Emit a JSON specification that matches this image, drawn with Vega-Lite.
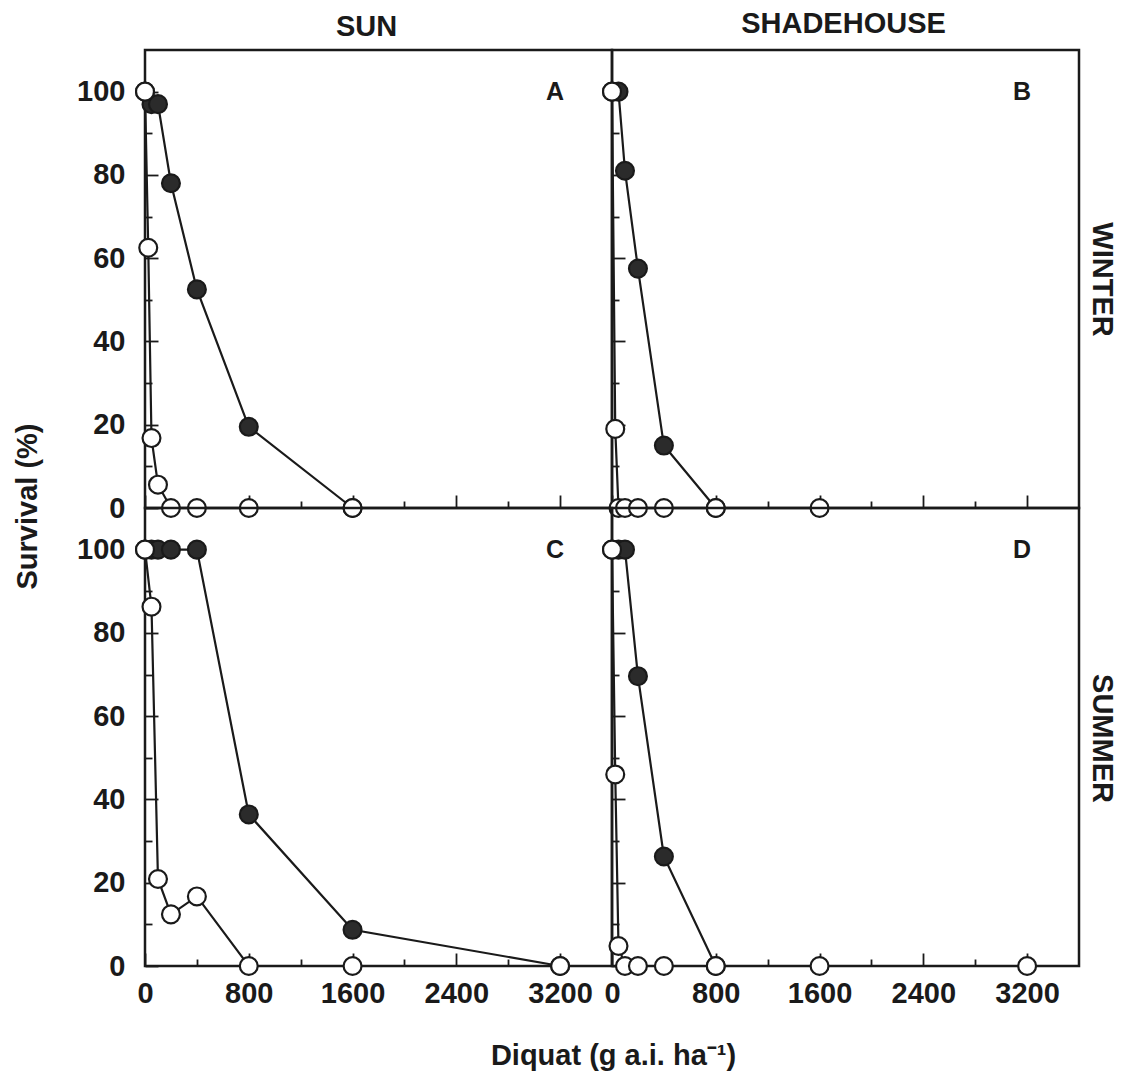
{
  "$schema": "https://vega.github.io/schema/vega-lite/v6.json",
  "padding": {"left": 11, "top": 7, "right": 5, "bottom": 5},
  "background": "white",
  "config": {
    "view": {"stroke": "#1a1a1a", "strokeWidth": 2.5},
    "axis": {"labelFont": "Liberation Sans", "labelFontSize": 29, "labelFontWeight": "bold", "labelColor": "#1a1a1a", "tickColor": "#1a1a1a", "tickWidth": 1.8, "domain": false, "grid": false,
             "titleFont": "Liberation Sans", "titleFontSize": 29, "titleFontWeight": "bold", "titleColor": "#1a1a1a", "titleBaseline": "alphabetic", "titleAlign": "center", "format": "d"}
  },
  "data": {"values": [
    {"season": "WINTER", "site": "SUN", "type": "filled", "dose": 0, "surv": 100},
    {"season": "WINTER", "site": "SUN", "type": "filled", "dose": 50, "surv": 97},
    {"season": "WINTER", "site": "SUN", "type": "filled", "dose": 100, "surv": 97},
    {"season": "WINTER", "site": "SUN", "type": "filled", "dose": 200, "surv": 78},
    {"season": "WINTER", "site": "SUN", "type": "filled", "dose": 400, "surv": 52.5},
    {"season": "WINTER", "site": "SUN", "type": "filled", "dose": 800, "surv": 19.5},
    {"season": "WINTER", "site": "SUN", "type": "filled", "dose": 1600, "surv": 0},
    {"season": "WINTER", "site": "SHADEHOUSE", "type": "filled", "dose": 0, "surv": 100},
    {"season": "WINTER", "site": "SHADEHOUSE", "type": "filled", "dose": 50, "surv": 100},
    {"season": "WINTER", "site": "SHADEHOUSE", "type": "filled", "dose": 100, "surv": 81},
    {"season": "WINTER", "site": "SHADEHOUSE", "type": "filled", "dose": 200, "surv": 57.5},
    {"season": "WINTER", "site": "SHADEHOUSE", "type": "filled", "dose": 400, "surv": 15},
    {"season": "WINTER", "site": "SHADEHOUSE", "type": "filled", "dose": 800, "surv": 0},
    {"season": "SUMMER", "site": "SUN", "type": "filled", "dose": 0, "surv": 100},
    {"season": "SUMMER", "site": "SUN", "type": "filled", "dose": 50, "surv": 100},
    {"season": "SUMMER", "site": "SUN", "type": "filled", "dose": 100, "surv": 100},
    {"season": "SUMMER", "site": "SUN", "type": "filled", "dose": 200, "surv": 100},
    {"season": "SUMMER", "site": "SUN", "type": "filled", "dose": 400, "surv": 100},
    {"season": "SUMMER", "site": "SUN", "type": "filled", "dose": 800, "surv": 36.4},
    {"season": "SUMMER", "site": "SUN", "type": "filled", "dose": 1600, "surv": 8.7},
    {"season": "SUMMER", "site": "SUN", "type": "filled", "dose": 3200, "surv": 0},
    {"season": "SUMMER", "site": "SHADEHOUSE", "type": "filled", "dose": 0, "surv": 100},
    {"season": "SUMMER", "site": "SHADEHOUSE", "type": "filled", "dose": 50, "surv": 100},
    {"season": "SUMMER", "site": "SHADEHOUSE", "type": "filled", "dose": 100, "surv": 100},
    {"season": "SUMMER", "site": "SHADEHOUSE", "type": "filled", "dose": 200, "surv": 69.6},
    {"season": "SUMMER", "site": "SHADEHOUSE", "type": "filled", "dose": 400, "surv": 26.3},
    {"season": "SUMMER", "site": "SHADEHOUSE", "type": "filled", "dose": 800, "surv": 0},
    {"season": "WINTER", "site": "SUN", "type": "open", "dose": 0, "surv": 100},
    {"season": "WINTER", "site": "SUN", "type": "open", "dose": 25, "surv": 62.5},
    {"season": "WINTER", "site": "SUN", "type": "open", "dose": 50, "surv": 16.8},
    {"season": "WINTER", "site": "SUN", "type": "open", "dose": 100, "surv": 5.6},
    {"season": "WINTER", "site": "SUN", "type": "open", "dose": 200, "surv": 0},
    {"season": "WINTER", "site": "SUN", "type": "open", "dose": 400, "surv": 0},
    {"season": "WINTER", "site": "SUN", "type": "open", "dose": 800, "surv": 0},
    {"season": "WINTER", "site": "SUN", "type": "open", "dose": 1600, "surv": 0},
    {"season": "WINTER", "site": "SHADEHOUSE", "type": "open", "dose": 0, "surv": 100},
    {"season": "WINTER", "site": "SHADEHOUSE", "type": "open", "dose": 25, "surv": 19},
    {"season": "WINTER", "site": "SHADEHOUSE", "type": "open", "dose": 50, "surv": 0},
    {"season": "WINTER", "site": "SHADEHOUSE", "type": "open", "dose": 100, "surv": 0},
    {"season": "WINTER", "site": "SHADEHOUSE", "type": "open", "dose": 200, "surv": 0},
    {"season": "WINTER", "site": "SHADEHOUSE", "type": "open", "dose": 400, "surv": 0},
    {"season": "WINTER", "site": "SHADEHOUSE", "type": "open", "dose": 800, "surv": 0},
    {"season": "WINTER", "site": "SHADEHOUSE", "type": "open", "dose": 1600, "surv": 0},
    {"season": "SUMMER", "site": "SUN", "type": "open", "dose": 0, "surv": 100},
    {"season": "SUMMER", "site": "SUN", "type": "open", "dose": 50, "surv": 86.3},
    {"season": "SUMMER", "site": "SUN", "type": "open", "dose": 100, "surv": 20.9},
    {"season": "SUMMER", "site": "SUN", "type": "open", "dose": 200, "surv": 12.4},
    {"season": "SUMMER", "site": "SUN", "type": "open", "dose": 400, "surv": 16.7},
    {"season": "SUMMER", "site": "SUN", "type": "open", "dose": 800, "surv": 0},
    {"season": "SUMMER", "site": "SUN", "type": "open", "dose": 1600, "surv": 0},
    {"season": "SUMMER", "site": "SUN", "type": "open", "dose": 3200, "surv": 0},
    {"season": "SUMMER", "site": "SHADEHOUSE", "type": "open", "dose": 0, "surv": 100},
    {"season": "SUMMER", "site": "SHADEHOUSE", "type": "open", "dose": 25, "surv": 46},
    {"season": "SUMMER", "site": "SHADEHOUSE", "type": "open", "dose": 50, "surv": 4.8},
    {"season": "SUMMER", "site": "SHADEHOUSE", "type": "open", "dose": 100, "surv": 0},
    {"season": "SUMMER", "site": "SHADEHOUSE", "type": "open", "dose": 200, "surv": 0},
    {"season": "SUMMER", "site": "SHADEHOUSE", "type": "open", "dose": 400, "surv": 0},
    {"season": "SUMMER", "site": "SHADEHOUSE", "type": "open", "dose": 800, "surv": 0},
    {"season": "SUMMER", "site": "SHADEHOUSE", "type": "open", "dose": 1600, "surv": 0},
    {"season": "SUMMER", "site": "SHADEHOUSE", "type": "open", "dose": 3200, "surv": 0}
  ]},
  "datasets": {
    "letters": [
      {"season": "WINTER", "site": "SUN", "letter": "A"},
      {"season": "WINTER", "site": "SHADEHOUSE", "letter": "B"},
      {"season": "SUMMER", "site": "SUN", "letter": "C"},
      {"season": "SUMMER", "site": "SHADEHOUSE", "letter": "D"}
    ]
  },
  "columns": 2,
  "spacing": 0,
  "bounds": "flush",
  "concat": [
    {
      "width": 467, "height": 458,
      "resolve": {"axis": {"x": "independent", "y": "independent"}},
      "layer": [
        {"transform": [{"filter": "datum.season === 'WINTER' && datum.site === 'SUN'"}],
         "mark": {"type": "line", "color": "#1a1a1a", "strokeWidth": 2.2},
         "encoding": {
           "x": {"field": "dose", "type": "quantitative", "scale": {"domain": [0, 3600], "nice": false, "zero": false},
                 "axis": {"orient": "bottom", "title": null, "values": [0, 800, 1600, 2400, 3200], "tickSize": -13, "labels": false}},
           "y": {"field": "surv", "type": "quantitative", "scale": {"domain": [0, 110], "nice": false, "zero": false},
                 "axis": {"orient": "left", "title": "Survival (%)", "titleX": -109, "titleY": 456, "titleAngle": -90, "values": [0, 20, 40, 60, 80, 100], "tickSize": -13, "labelPadding": 33, "labelFlush": false}},
           "detail": {"field": "type"}}},
        {"transform": [{"filter": "datum.season === 'WINTER' && datum.site === 'SUN'"}],
         "mark": {"type": "point", "shape": "circle", "filled": true, "size": 320, "stroke": "#1a1a1a", "strokeWidth": 2.2, "opacity": 1},
         "encoding": {
           "x": {"field": "dose", "type": "quantitative", "axis": null},
           "y": {"field": "surv", "type": "quantitative", "axis": null},
           "fill": {"field": "type", "type": "nominal", "scale": {"domain": ["filled", "open"], "range": ["#2b2b2b", "#ffffff"]}, "legend": null}}},
        {"transform": [{"filter": "datum.season === 'WINTER' && datum.site === 'SUN'"}],
         "mark": {"type": "point", "opacity": 0},
         "encoding": {
           "x": {"field": "dose", "type": "quantitative", "axis": {"orient": "bottom", "title": null, "values": [400, 1200, 2000, 2800], "tickSize": -7, "labels": false}},
           "y": {"field": "surv", "type": "quantitative", "axis": {"orient": "left", "title": null, "values": [10, 30, 50, 70, 90], "tickSize": -7, "labels": false}}}},
        {"data": {"name": "letters"},
         "transform": [{"filter": "datum.season === 'WINTER' && datum.site === 'SUN'"}],
         "mark": {"type": "text", "font": "Liberation Sans", "fontSize": 25, "fontWeight": "bold", "color": "#1a1a1a", "align": "center", "baseline": "middle"},
         "encoding": {
           "x": {"datum": 3160, "type": "quantitative", "axis": {"orient": "top", "title": "SUN", "titleX": 221, "titleY": -15, "ticks": false, "labels": false}},
           "y": {"datum": 100, "type": "quantitative", "axis": null},
           "text": {"field": "letter"}}}
      ]
    },
    {
      "width": 467, "height": 458,
      "resolve": {"axis": {"x": "independent", "y": "independent"}},
      "layer": [
        {"transform": [{"filter": "datum.season === 'WINTER' && datum.site === 'SHADEHOUSE'"}],
         "mark": {"type": "line", "color": "#1a1a1a", "strokeWidth": 2.2},
         "encoding": {
           "x": {"field": "dose", "type": "quantitative", "scale": {"domain": [0, 3600], "nice": false, "zero": false},
                 "axis": {"orient": "bottom", "title": null, "values": [0, 800, 1600, 2400, 3200], "tickSize": -13, "labels": false}},
           "y": {"field": "surv", "type": "quantitative", "scale": {"domain": [0, 110], "nice": false, "zero": false},
                 "axis": {"orient": "left", "title": null, "values": [0, 20, 40, 60, 80, 100], "tickSize": -13, "labels": false}},
           "detail": {"field": "type"}}},
        {"transform": [{"filter": "datum.season === 'WINTER' && datum.site === 'SHADEHOUSE'"}],
         "mark": {"type": "point", "shape": "circle", "filled": true, "size": 320, "stroke": "#1a1a1a", "strokeWidth": 2.2, "opacity": 1},
         "encoding": {
           "x": {"field": "dose", "type": "quantitative", "axis": null},
           "y": {"field": "surv", "type": "quantitative", "axis": null},
           "fill": {"field": "type", "type": "nominal", "scale": {"domain": ["filled", "open"], "range": ["#2b2b2b", "#ffffff"]}, "legend": null}}},
        {"transform": [{"filter": "datum.season === 'WINTER' && datum.site === 'SHADEHOUSE'"}],
         "mark": {"type": "point", "opacity": 0},
         "encoding": {
           "x": {"field": "dose", "type": "quantitative", "axis": {"orient": "bottom", "title": null, "values": [400, 1200, 2000, 2800], "tickSize": -7, "labels": false}},
           "y": {"field": "surv", "type": "quantitative", "axis": {"orient": "left", "title": null, "values": [10, 30, 50, 70, 90], "tickSize": -7, "labels": false}}}},
        {"data": {"name": "letters"},
         "transform": [{"filter": "datum.season === 'WINTER' && datum.site === 'SHADEHOUSE'"}],
         "mark": {"type": "text", "font": "Liberation Sans", "fontSize": 25, "fontWeight": "bold", "color": "#1a1a1a", "align": "center", "baseline": "middle"},
         "encoding": {
           "x": {"datum": 3160, "type": "quantitative", "axis": {"orient": "top", "title": "SHADEHOUSE", "titleX": 231, "titleY": -18, "ticks": false, "labels": false}},
           "y": {"datum": 100, "type": "quantitative", "axis": {"orient": "right", "title": "WINTER", "titleX": 13, "titleY": 229, "titleAngle": 90, "ticks": false, "labels": false}},
           "text": {"field": "letter"}}}
      ]
    },
    {
      "width": 467, "height": 458,
      "resolve": {"axis": {"x": "independent", "y": "independent"}},
      "layer": [
        {"transform": [{"filter": "datum.season === 'SUMMER' && datum.site === 'SUN'"}],
         "mark": {"type": "line", "color": "#1a1a1a", "strokeWidth": 2.2},
         "encoding": {
           "x": {"field": "dose", "type": "quantitative", "scale": {"domain": [0, 3600], "nice": false, "zero": false},
                 "axis": {"orient": "bottom", "title": "Diquat (g a.i. ha⁻¹)", "titleX": 468, "titleY": 98, "values": [0, 800, 1600, 2400, 3200], "tickSize": -13, "labelPadding": 26, "labelFlush": false}},
           "y": {"field": "surv", "type": "quantitative", "scale": {"domain": [0, 110], "nice": false, "zero": false},
                 "axis": {"orient": "left", "title": null, "values": [0, 20, 40, 60, 80, 100], "tickSize": -13, "labelPadding": 33, "labelFlush": false}},
           "detail": {"field": "type"}}},
        {"transform": [{"filter": "datum.season === 'SUMMER' && datum.site === 'SUN'"}],
         "mark": {"type": "point", "shape": "circle", "filled": true, "size": 320, "stroke": "#1a1a1a", "strokeWidth": 2.2, "opacity": 1},
         "encoding": {
           "x": {"field": "dose", "type": "quantitative", "axis": null},
           "y": {"field": "surv", "type": "quantitative", "axis": null},
           "fill": {"field": "type", "type": "nominal", "scale": {"domain": ["filled", "open"], "range": ["#2b2b2b", "#ffffff"]}, "legend": null}}},
        {"transform": [{"filter": "datum.season === 'SUMMER' && datum.site === 'SUN'"}],
         "mark": {"type": "point", "opacity": 0},
         "encoding": {
           "x": {"field": "dose", "type": "quantitative", "axis": {"orient": "bottom", "title": null, "values": [400, 1200, 2000, 2800], "tickSize": -7, "labels": false}},
           "y": {"field": "surv", "type": "quantitative", "axis": {"orient": "left", "title": null, "values": [10, 30, 50, 70, 90], "tickSize": -7, "labels": false}}}},
        {"data": {"name": "letters"},
         "transform": [{"filter": "datum.season === 'SUMMER' && datum.site === 'SUN'"}],
         "mark": {"type": "text", "font": "Liberation Sans", "fontSize": 25, "fontWeight": "bold", "color": "#1a1a1a", "align": "center", "baseline": "middle"},
         "encoding": {
           "x": {"datum": 3160, "type": "quantitative", "axis": null},
           "y": {"datum": 100, "type": "quantitative", "axis": null},
           "text": {"field": "letter"}}}
      ]
    },
    {
      "width": 467, "height": 458,
      "resolve": {"axis": {"x": "independent", "y": "independent"}},
      "layer": [
        {"transform": [{"filter": "datum.season === 'SUMMER' && datum.site === 'SHADEHOUSE'"}],
         "mark": {"type": "line", "color": "#1a1a1a", "strokeWidth": 2.2},
         "encoding": {
           "x": {"field": "dose", "type": "quantitative", "scale": {"domain": [0, 3600], "nice": false, "zero": false},
                 "axis": {"orient": "bottom", "title": null, "values": [0, 800, 1600, 2400, 3200], "tickSize": -13, "labelPadding": 26, "labelFlush": false}},
           "y": {"field": "surv", "type": "quantitative", "scale": {"domain": [0, 110], "nice": false, "zero": false},
                 "axis": {"orient": "left", "title": null, "values": [0, 20, 40, 60, 80, 100], "tickSize": -13, "labels": false}},
           "detail": {"field": "type"}}},
        {"transform": [{"filter": "datum.season === 'SUMMER' && datum.site === 'SHADEHOUSE'"}],
         "mark": {"type": "point", "shape": "circle", "filled": true, "size": 320, "stroke": "#1a1a1a", "strokeWidth": 2.2, "opacity": 1},
         "encoding": {
           "x": {"field": "dose", "type": "quantitative", "axis": null},
           "y": {"field": "surv", "type": "quantitative", "axis": null},
           "fill": {"field": "type", "type": "nominal", "scale": {"domain": ["filled", "open"], "range": ["#2b2b2b", "#ffffff"]}, "legend": null}}},
        {"transform": [{"filter": "datum.season === 'SUMMER' && datum.site === 'SHADEHOUSE'"}],
         "mark": {"type": "point", "opacity": 0},
         "encoding": {
           "x": {"field": "dose", "type": "quantitative", "axis": {"orient": "bottom", "title": null, "values": [400, 1200, 2000, 2800], "tickSize": -7, "labels": false}},
           "y": {"field": "surv", "type": "quantitative", "axis": {"orient": "left", "title": null, "values": [10, 30, 50, 70, 90], "tickSize": -7, "labels": false}}}},
        {"data": {"name": "letters"},
         "transform": [{"filter": "datum.season === 'SUMMER' && datum.site === 'SHADEHOUSE'"}],
         "mark": {"type": "text", "font": "Liberation Sans", "fontSize": 25, "fontWeight": "bold", "color": "#1a1a1a", "align": "center", "baseline": "middle"},
         "encoding": {
           "x": {"datum": 3160, "type": "quantitative", "axis": null},
           "y": {"datum": 100, "type": "quantitative", "axis": {"orient": "right", "title": "SUMMER", "titleX": 13, "titleY": 230, "titleAngle": 90, "ticks": false, "labels": false}},
           "text": {"field": "letter"}}}
      ]
    }
  ]
}
